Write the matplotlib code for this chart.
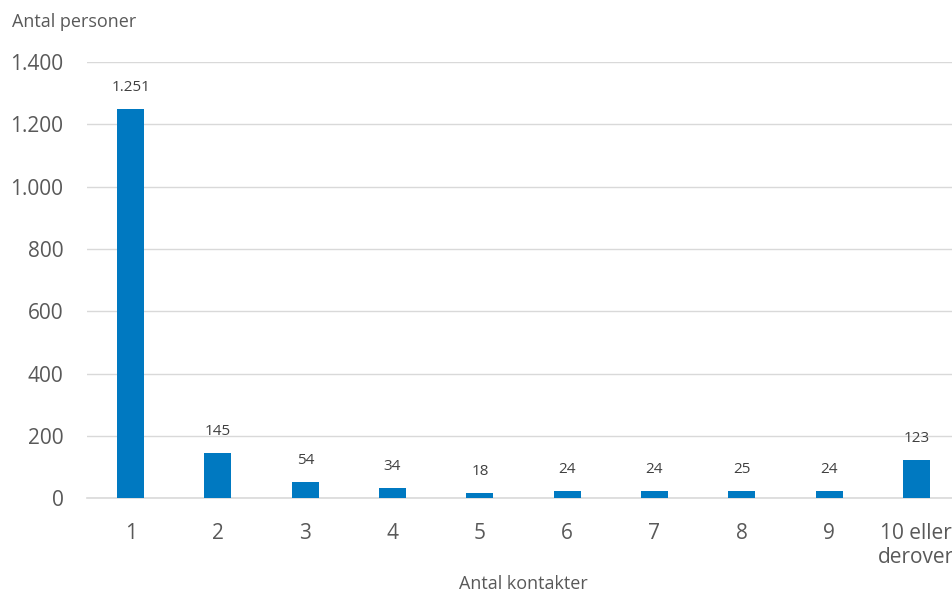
import matplotlib.pyplot as plt
from matplotlib.ticker import FuncFormatter

categories = ["1", "2", "3", "4", "5", "6", "7", "8", "9", "10 eller\nderover"]
values = [1251, 145, 54, 34, 18, 24, 24, 25, 24, 123]
yticks = [0, 200, 400, 600, 800, 1000, 1200, 1400]

txt = "#595959"
plt.rcParams['font.family'] = ['Open Sans', 'DejaVu Sans']

fig = plt.figure(figsize=(9.52, 5.92), dpi=100)
ax = fig.add_axes([0.0914, 0.158, 0.917, 0.737])

x = list(range(len(values)))
ax.bar(x, values, width=0.31, color="#0079C1", zorder=3)

def dk(v):
    return f"{int(v):,}".replace(",", ".")

for xi, v in zip(x, values):
    ax.text(xi, v + 45, dk(v), ha="center", va="bottom", fontsize=11, color="#404040")

ax.set_xlim(-0.5, len(values) - 0.5)
ax.set_ylim(0, 1400)
ax.set_yticks(yticks)
ax.yaxis.set_major_formatter(FuncFormatter(lambda v, p: dk(v)))
ax.set_xticks(x)
ax.set_xticklabels(categories)
ax.grid(axis="y", color="#D9D9D9", linewidth=1, zorder=0)
for s in ["top", "right", "left"]:
    ax.spines[s].set_visible(False)
ax.spines["bottom"].set_color("#D9D9D9")
ax.spines["bottom"].set_linewidth(1.2)
ax.tick_params(axis="both", length=0, labelsize=15, labelcolor=txt)
ax.tick_params(axis="x", pad=17.5)
ax.tick_params(axis="y", pad=17)

fig.text(0.013, 0.963, "Antal personer", fontsize=13, color=txt, ha="left", va="center")
fig.text(0.55, 0.013, "Antal kontakter", fontsize=13, color=txt, ha="center", va="center")

fig.savefig("out.png", dpi=100)
